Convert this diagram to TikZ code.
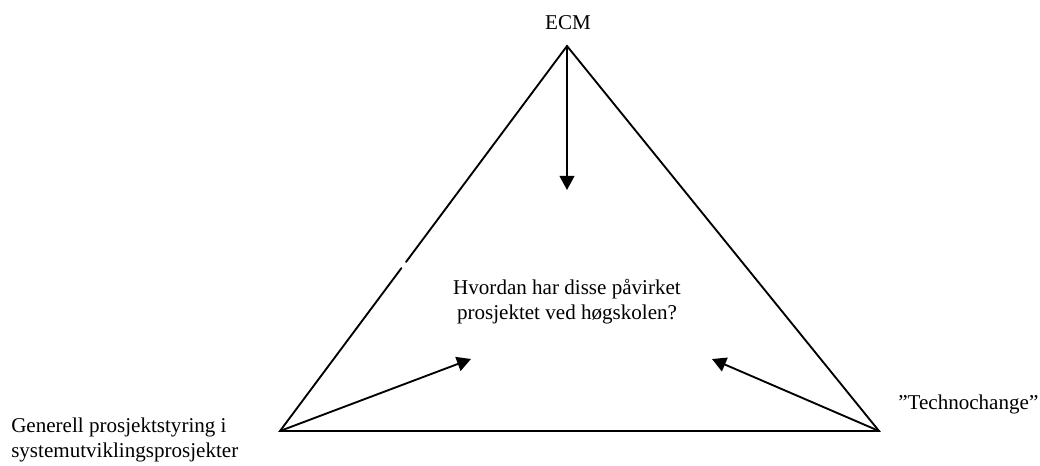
\documentclass[tikz,border=0pt]{standalone}
\usepackage{fontspec}
\setmainfont{Liberation Serif}
\usetikzlibrary{arrows.meta,calc}
\begin{document}
\begin{tikzpicture}[x=0.75pt,y=-0.75pt,
  edge/.style={line width=1.4pt,line cap=round,line join=miter},
  pointer/.style={line width=1.4pt,-{Triangle[length=10.5pt,width=11pt]}},
  lbl/.style={inner sep=0pt,font=\fontsize{15.8}{18.8}\selectfont}]
\useasboundingbox (0,0) rectangle (1040,466);
% corners of the triangle
\coordinate (apex) at (567,46);
\coordinate (bl) at (280,431);
\coordinate (br) at (879,431);
% where the three pointers end
\coordinate (tipT) at (567,190);
\coordinate (tipL) at (471,359);
\coordinate (tipR) at (712,359);
% small break in the left side
\coordinate (gapA) at ($(bl)!0.423!(apex)$);
\coordinate (gapB) at ($(bl)!0.439!(apex)$);
% triangle
\draw[edge] (gapB) -- (apex) -- (br) -- (bl) -- (gapA);
% pointers towards the centre
\draw[pointer] (apex) -- (tipT);
\draw[pointer] (bl) -- (tipL);
\draw[pointer] (br) -- (tipR);
% labels
\node[lbl,anchor=base] (ecm) at (568,30) {ECM};
\node[lbl,anchor=center,align=center] (q) at (567,302)
  {Hvordan har disse påvirket\\prosjektet ved høgskolen?};
\node[lbl,anchor=base west] (gen1) at (11,433) {Generell prosjektstyring i};
\node[lbl,anchor=base west] (gen2) at (11,458) {systemutviklingsprosjekter};
\node[lbl,anchor=base west] (tech) at (898,410) {”Technochange”};
\end{tikzpicture}
\end{document}
